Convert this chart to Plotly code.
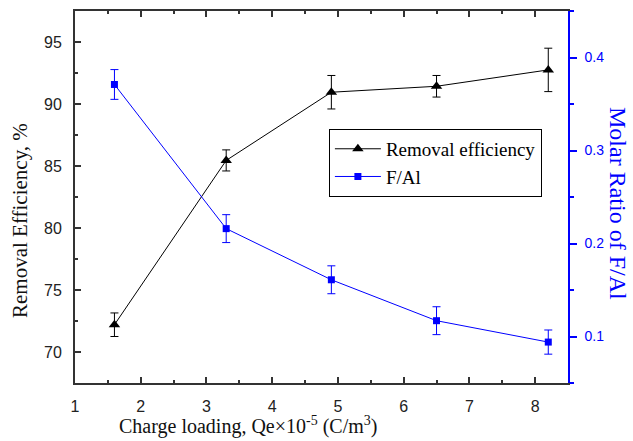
import plotly.graph_objects as go

# Data
charge_loading = [1.6, 3.3, 4.9, 6.5, 8.2]
removal_eff = [72.2, 85.45, 90.95, 91.43, 92.75]
removal_err = [0.95, 0.85, 1.35, 0.87, 1.75]
f_al = [0.371, 0.216, 0.161, 0.117, 0.094]
f_al_err = [0.016, 0.015, 0.015, 0.015, 0.013]

x_title = "Charge loading, Qe×10<sup>-5</sup> (C/m<sup>3</sup>)"
y_title = "Removal Efficiency, %"
y2_title = "Molar Ratio of F/Al"

BLUE = "#0000ff"
serif = "Times New Roman"
sans = "Arial"

fig = go.Figure()
fig.add_trace(go.Scatter(
    x=charge_loading, y=removal_eff, name="Removal efficiency",
    mode="lines+markers",
    line=dict(color="black", width=1),
    marker=dict(symbol="triangle-up", size=10, color="black"),
    error_y=dict(type="data", array=removal_err, color="black", thickness=1, width=4),
))
fig.add_trace(go.Scatter(
    x=charge_loading, y=f_al, name="F/Al", yaxis="y2",
    mode="lines+markers",
    line=dict(color=BLUE, width=1),
    marker=dict(symbol="square", size=7, color=BLUE),
    error_y=dict(type="data", array=f_al_err, color=BLUE, thickness=1, width=4),
))

fig.update_layout(
    width=633, height=441,
    margin=dict(l=75, r=65, t=11, b=58, autoexpand=False),
    paper_bgcolor="white", plot_bgcolor="white",
    font=dict(family=serif),
    showlegend=True,
    legend=dict(
        x=0.515, y=0.683, xanchor="left", yanchor="top",
        bordercolor="black", borderwidth=1, bgcolor="white",
        font=dict(family=serif, size=19, color="black"),
        tracegroupgap=0, itemwidth=46,
    ),
    xaxis=dict(
        range=[1, 8.5], dtick=1, tick0=1,
        showline=True, linecolor="#333", linewidth=2, mirror="ticks",
        ticks="inside", ticklen=6, tickcolor="#333", tickwidth=1.5,
        minor=dict(dtick=0.5, ticks="inside", ticklen=3, tickcolor="#333", tickwidth=1.5),
        showgrid=False, zeroline=False,
        tickfont=dict(family=sans, size=16, color="#222"),
        ticklabelstandoff=8,
    ),
    yaxis=dict(
        range=[67.5, 97.5], dtick=5, tick0=70,
        showline=True, linecolor="#333", linewidth=2,
        ticks="inside", ticklen=6, tickcolor="#333", tickwidth=1.5,
        minor=dict(dtick=2.5, ticks="inside", ticklen=3, tickcolor="#333", tickwidth=1.5),
        showgrid=False, zeroline=False,
        tickfont=dict(family=sans, size=16, color="#222"),
        ticklabelstandoff=8,
    ),
    yaxis2=dict(
        overlaying="y", side="right",
        range=[0.05, 0.45], dtick=0.1, tick0=0.1,
        showline=True, linecolor=BLUE, linewidth=1.5,
        ticks="outside", ticklen=7, tickcolor=BLUE, tickwidth=1.5,
        minor=dict(dtick=0.05, ticks="outside", ticklen=4, tickcolor=BLUE, tickwidth=1.5),
        showgrid=False, zeroline=False,
        tickfont=dict(family=sans, size=14, color=BLUE),
        ticklabelstandoff=5,
    ),
    annotations=[
        dict(text=y_title, xref="paper", yref="paper",
             x=(20 - 75) / 493, y=1 - (221 - 11) / 372, xanchor="center", yanchor="middle",
             textangle=-90, showarrow=False,
             font=dict(family=serif, size=21, color="#111")),
        dict(text=y2_title, xref="paper", yref="paper",
             x=(618 - 75) / 493, y=1 - (203 - 11) / 372, xanchor="center", yanchor="middle",
             textangle=90, showarrow=False,
             font=dict(family=serif, size=24, color=BLUE)),
        dict(text=x_title, xref="paper", yref="paper",
             x=(248 - 75) / 493, y=-(426 - 383) / 372, xanchor="center", yanchor="middle",
             showarrow=False,
             font=dict(family=serif, size=20, color="#111")),
    ],
)

fig.write_html("out.html")
